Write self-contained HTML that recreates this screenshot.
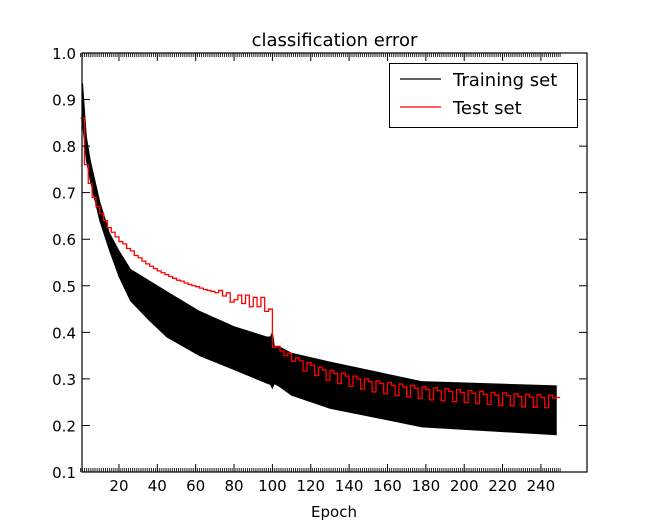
<!DOCTYPE html>
<html><head><meta charset="utf-8"><style>
body{margin:0;background:#fff;}
svg{display:block;font-family:"DejaVu Sans","Liberation Sans",sans-serif;}
</style></head><body>
<svg id="chart" width="652" height="525"></svg>
<script>
const yTicks=[0.1,0.2,0.3,0.4,0.5,0.6,0.7,0.8,0.9,1.0];
const xTicks=[20,40,60,80,100,120,140,160,180,200,220,240];
const trainEpochs=[1,3,5,10,15,20,26,36,45,62,80,97,99,100,101,104,110,130,178,248];
const trainUpper=[0.935,0.82,0.77,0.68,0.613,0.575,0.535,0.51,0.487,0.445,0.412,0.39,0.39,0.40,0.37,0.368,0.355,0.336,0.294,0.285];
const trainLower=[0.85,0.77,0.727,0.64,0.577,0.52,0.468,0.425,0.39,0.35,0.32,0.291,0.288,0.28,0.29,0.283,0.265,0.237,0.197,0.18];
const testValues=[0.86,0.76,0.72,0.69,0.67,0.655,0.64,0.625,0.615,0.605,0.595,0.59,0.58,0.575,0.565,0.56,0.553,0.547,0.542,0.537,0.532,0.528,0.524,0.52,0.516,0.512,0.51,0.506,0.503,0.50,0.498,0.495,0.492,0.49,0.488,0.485,0.49,0.478,0.485,0.465,0.47,0.48,0.462,0.48,0.455,0.475,0.455,0.475,0.445,0.45,
0.368,0.37,0.36,0.35,0.355,0.338,
0.345,0.339,0.317,0.335,0.329,0.307,0.325,0.319,0.297,0.318,0.312,0.29,0.312,0.306,0.284,0.306,0.30,0.278,0.30,0.294,0.272,0.296,0.29,0.268,0.292,0.286,0.264,0.289,0.283,0.261,0.286,0.28,0.258,0.283,0.277,0.255,0.281,0.275,0.253,0.279,0.273,0.251,0.277,0.271,0.249,0.275,0.269,0.247,0.273,0.267,0.245,0.271,0.265,0.243,0.27,0.264,0.242,0.268,0.262,0.24,0.267,0.261,0.239,0.266,0.26,0.238,0.265,0.259,0.26];
const testStart=1, testStep=2;

const L=82,R=587,T=53,B=472;
const X=e=>80.6+e*1.918;
const Y=v=>B-(v-0.1)/0.9*(B-T);
const svg=document.getElementById('chart');
const NS='http://www.w3.org/2000/svg';
function mk(tag,attrs,parent){const el=document.createElementNS(NS,tag);for(const k in attrs)el.setAttribute(k,attrs[k]);(parent||svg).appendChild(el);return el;}

let pts=trainEpochs.map((e,i)=>X(e)+','+Y(trainUpper[i]));
pts=pts.concat(trainEpochs.map((e,i)=>X(e)+','+Y(trainLower[i])).reverse());
const band=mk('polygon',{points:pts.join(' '),fill:'#000',stroke:'#000','stroke-width':1});



let d='';
testValues.forEach((v,i)=>{const e0=testStart+i*testStep-1,e1=e0+testStep;
 d+=(i===0?'M':'L')+X(e0)+','+Y(v)+' L'+X(e1)+','+Y(v)+' ';});
const test=mk('path',{d:d,fill:'none',stroke:'#ff0000','stroke-width':1.3});



const frame=mk('rect',{x:L,y:T,width:R-L,height:B-T,fill:'none',stroke:'#000','stroke-width':1.2});



let md='';
for(let e=0;e<=250;e++){const x=X(e);md+=`M${x},${B}v-4M${x},${T}v4`;}
mk('path',{d:md,stroke:'#000','stroke-width':0.8,fill:'none'});

xTicks.forEach(t=>{
 mk('path',{d:`M${X(t)},${B}v-8M${X(t)},${T}v8`,stroke:'#000','stroke-width':1});
 const tx=mk('text',{x:X(t),y:B+19,'text-anchor':'middle','font-size':15});
 tx.textContent=t;
 
 
});
yTicks.forEach(t=>{
 mk('path',{d:`M${L},${Y(t)}h8M${R},${Y(t)}h-8`,stroke:'#000','stroke-width':1});
 const tx=mk('text',{x:L-6,y:Y(t)+6,'text-anchor':'end','font-size':15});
 tx.textContent=t.toFixed(1);
 
 
});

const title=mk('text',{x:(L+R)/2,y:46,'text-anchor':'middle','font-size':18});
title.textContent='classification error';


const xl=mk('text',{x:334,y:517,'text-anchor':'middle','font-size':15});
xl.textContent='Epoch';



const lg=mk('g',{});


mk('rect',{x:389.5,y:63.5,width:188,height:64,fill:'#fff',stroke:'#000','stroke-width':1},lg);
mk('line',{x1:400,x2:441,y1:79,y2:79,stroke:'#000','stroke-width':1.3},lg);
mk('line',{x1:400,x2:441,y1:107,y2:107,stroke:'#ff0000','stroke-width':1.3},lg);
const l1=mk('text',{x:453,y:86,'font-size':18},lg);l1.textContent='Training set';


const l2=mk('text',{x:453,y:114,'font-size':18},lg);l2.textContent='Test set';


</script>
</body></html>
